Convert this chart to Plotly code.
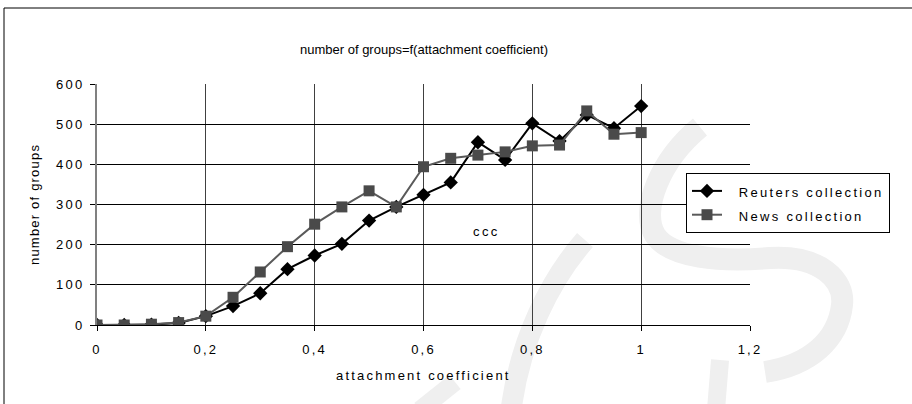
import plotly.graph_objects as go

coef = [0, 0.05, 0.1, 0.15, 0.2, 0.25, 0.3, 0.35, 0.4, 0.45, 0.5, 0.55, 0.6, 0.65, 0.7, 0.75, 0.8, 0.85, 0.9, 0.95, 1.0]
reuters = [0, 0, 1, 5, 22, 47, 79, 139, 173, 202, 260, 294, 324, 355, 455, 411, 502, 458, 523, 490, 545]
news = [0, 0, 2, 6, 22, 69, 132, 195, 251, 294, 334, 294, 394, 415, 423, 431, 446, 448, 533, 475, 479]

x_ticks = [0, 0.2, 0.4, 0.6, 0.8, 1.0, 1.2]
x_ticklabels = ["0", "0,2", "0,4", "0,6", "0,8", "1", "1,2"]
y_ticks = [0, 100, 200, 300, 400, 500, 600]

FONT = "Liberation Sans, Arial, sans-serif"

# plot-area geometry in pixels (used only for decoration / label placement)
L, R, T, B = 97, 750, 84, 325


def px(x, y):
    return (x - L) / (R - L), (B - y) / (B - T)


def path(*segs):
    out = []
    for cmd, pts in segs:
        coords = " ".join("%.4f,%.4f" % px(*p) for p in pts)
        out.append(cmd + " " + coords)
    return " ".join(out)


def sp(t, s="letter-spacing:2.2px"):
    return f'<span style="{s}">{t}</span>'


LEG = "font-size:13px;letter-spacing:2.3px"
PAD = "\u00a0\u00a0"

fig = go.Figure()
fig.add_trace(go.Scatter(
    x=coef, y=reuters, name=sp(PAD + "Reuters collection", LEG), mode="lines+markers",
    line=dict(color="#000000", width=2),
    marker=dict(symbol="diamond", size=11, color="#000000"),
))
fig.add_trace(go.Scatter(
    x=coef, y=news, name=sp(PAD + "News collection", LEG), mode="lines+markers",
    line=dict(color="#5a5a5a", width=2),
    marker=dict(symbol="square", size=11, color="#4a4a4a"),
))

WM = "#efefef"
watermark = [
    path(("M", [(700, 127)]),
         ("C", [(660, 160), (640, 210), (655, 235)]),
         ("C", [(670, 258), (720, 262), (770, 258)]),
         ("C", [(820, 255), (845, 280), (842, 305)]),
         ("C", [(838, 340), (810, 365), (765, 372)])),
    path(("M", [(585, 240)]),
         ("C", [(550, 280), (520, 340), (511, 410)])),
    path(("M", [(720, 360)]), ("L", [(716, 410)])),
    path(("M", [(455, 382)]), ("L", [(420, 410)])),
]

shapes = [
    dict(type="path", xref="paper", yref="paper", path=p,
         line=dict(color=WM, width=w), layer="below")
    for p, w in zip(watermark, [22, 21, 18, 18])
]
shapes.append(
    dict(type="rect", xref="paper", yref="paper",
         x0=px(4, 0)[0], x1=px(940, 0)[0],
         y0=px(0, 440)[1], y1=px(0, 8)[1],
         line=dict(color="#000000", width=1), layer="below"))

fig.update_layout(
    width=912, height=404,
    margin=dict(l=L, r=912 - R, t=T, b=404 - B),
    paper_bgcolor="white", plot_bgcolor="rgba(0,0,0,0)",
    font=dict(family=FONT, size=13, color="#000000"),
    showlegend=True,
    legend=dict(
        x=px(686, 0)[0], y=px(0, 173)[1], xanchor="left", yanchor="top",
        bordercolor="#000000", borderwidth=1, bgcolor="white",
        font=dict(size=16, family=FONT),
        tracegroupgap=0,
    ),
    xaxis=dict(
        range=[0, 1.2], tickmode="array", tickvals=x_ticks,
        ticktext=[sp(t) for t in x_ticklabels],
        showgrid=True, gridcolor="#404040", gridwidth=1,
        showline=True, linecolor="#000000", linewidth=1,
        ticks="outside", ticklen=5, tickcolor="#000000",
        zeroline=False, tickfont=dict(size=13), ticklabelstandoff=7,
    ),
    yaxis=dict(
        range=[0, 600], tickmode="array", tickvals=y_ticks,
        ticktext=[sp(str(v)) for v in y_ticks],
        showgrid=True, gridcolor="#000000", gridwidth=1,
        showline=True, linecolor="#808080", linewidth=2,
        ticks="outside", ticklen=5, tickcolor="#000000",
        zeroline=False, tickfont=dict(size=13), ticklabelstandoff=3,
    ),
    annotations=[
        dict(text="number of groups=f(attachment coefficient)", xref="paper", yref="paper",
             x=0.5, y=px(0, 49)[1], xanchor="center", yanchor="middle",
             showarrow=False, font=dict(size=13)),
        dict(text=sp("attachment coefficient"), xref="paper", yref="paper",
             x=0.5, y=px(0, 375)[1], xanchor="center", yanchor="middle",
             showarrow=False, font=dict(size=13)),
        dict(text=sp("number of groups", "letter-spacing:1.2px"), xref="paper", yref="paper",
             x=px(34, 0)[0], y=px(0, 205)[1], xanchor="center", yanchor="middle",
             textangle=-90, showarrow=False, font=dict(size=13)),
        dict(text=sp("ccc", "letter-spacing:2.4px"), xref="x", yref="y", x=0.716, y=234,
             xanchor="center", yanchor="middle", showarrow=False, font=dict(size=13)),
    ],
    shapes=shapes,
)

fig.write_html("out.html", config={"displayModeBar": False},
               post_script="document.body.style.margin='0';")
